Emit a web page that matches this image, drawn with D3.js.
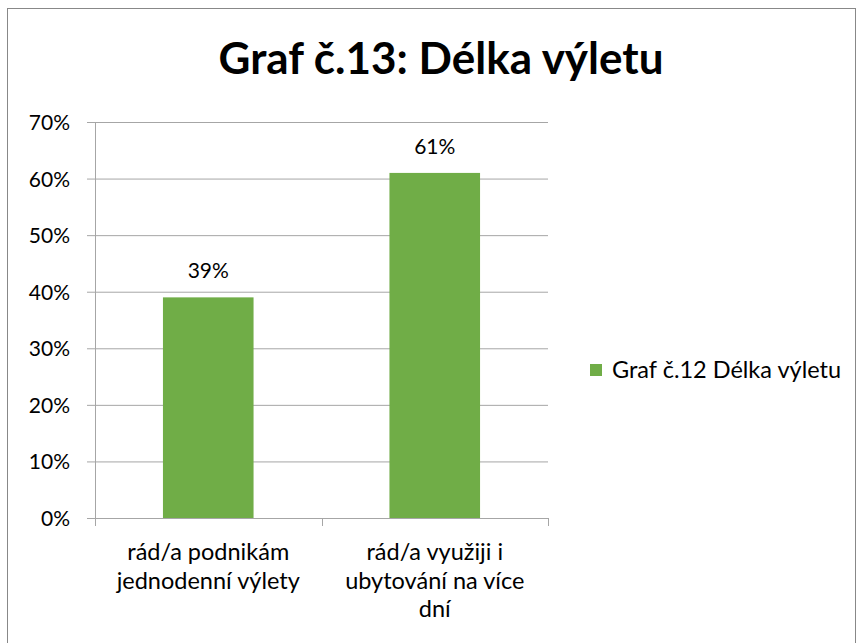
<!DOCTYPE html>
<html>
<head>
<meta charset="utf-8">
<script src="https://cdn.jsdelivr.net/npm/d3@7"></script>
<style>
  body { margin: 0; background: #fff; }
  text { font-family: Lato, "Open Sans", sans-serif; fill: #000; }
</style>
</head>
<body>
<script>
//data
var categories = [
    ['rád/a podnikám', 'jednodenní výlety'],
    ['rád/a využiji i', 'ubytování na více', 'dní']
];
var values = [0.39, 0.61];
var series_name = 'Graf č.12 Délka výletu';
var title_text = 'Graf č.13: Délka výletu';
var y_ticks = [0, 0.1, 0.2, 0.3, 0.4, 0.5, 0.6, 0.7];

//layout
var svg_width = 862;
var svg_height = 643;
var plot = {left: 95, right: 548, top: 122, bottom: 518};
var bar_color = '#70ad47';
var grid_color = '#a6a6a6';

var svg = d3.select('body').append('svg')
    .attr('width', svg_width)
    .attr('height', svg_height);

//outer frame
svg.append('rect')
    .attr('x', 7.5).attr('y', 8.5)
    .attr('width', 848).attr('height', 640)
    .attr('fill', 'none')
    .attr('stroke', '#888')
    .attr('stroke-width', 1);

//title
svg.append('text')
    .attr('x', 441)
    .attr('y', 74)
    .attr('text-anchor', 'middle')
    .style('font-size', '44px')
    .style('font-weight', 'bold')
    .text(title_text);

//scales
var scale_x = d3.scaleBand()
    .domain(d3.range(categories.length))
    .range([plot.left, plot.right])
    .paddingInner(0.6)
    .paddingOuter(0.3);
var scale_y = d3.scaleLinear()
    .domain([0, 0.7])
    .range([plot.bottom, plot.top]);

//y axis + grid
var axis_y = d3.axisLeft(scale_y)
    .tickValues(y_ticks)
    .tickFormat(d3.format('.0%'))
    .tickSize(8)
    .tickPadding(17);
var gy = svg.append('g')
    .attr('transform', 'translate(' + plot.left + ',0)')
    .call(axis_y);
gy.select('.domain').attr('stroke', grid_color).attr('d', 'M0.5,' + plot.top + 'V' + plot.bottom);
gy.selectAll('.tick line').attr('stroke', grid_color);
gy.selectAll('.tick text').style('font-size', '21px').attr('dy', '0.36em');
gy.selectAll('.tick')
    .filter(function(d) { return d > 0; })
    .append('line')
    .attr('x1', 0).attr('x2', plot.right - plot.left)
    .attr('stroke', grid_color);

//bars
svg.append('g').selectAll('rect')
    .data(values)
    .enter().append('rect')
    .attr('x', function(d, i) { return scale_x(i); })
    .attr('y', function(d) { return scale_y(d); })
    .attr('width', scale_x.bandwidth())
    .attr('height', function(d) { return plot.bottom - scale_y(d); })
    .attr('fill', bar_color);

//data labels
svg.append('g').selectAll('text')
    .data(values)
    .enter().append('text')
    .attr('x', function(d, i) { return scale_x(i) + scale_x.bandwidth() / 2; })
    .attr('y', function(d) { return scale_y(d) - 19; })
    .attr('text-anchor', 'middle')
    .style('font-size', '21px')
    .text(d3.format('.0%'));

//x axis
var gx = svg.append('g').attr('transform', 'translate(0,' + plot.bottom + ')');
gx.append('line')
    .attr('x1', plot.left).attr('x2', plot.right)
    .attr('y1', 0.5).attr('y2', 0.5)
    .attr('stroke', grid_color);
var bounds = [plot.left, plot.left + (plot.right - plot.left) / 2, plot.right];
gx.selectAll('line.tk')
    .data(bounds)
    .enter().append('line')
    .attr('class', 'tk')
    .attr('x1', function(d) { return Math.round(d) + 0.5; })
    .attr('x2', function(d) { return Math.round(d) + 0.5; })
    .attr('y1', 0).attr('y2', 8)
    .attr('stroke', grid_color);

//category labels
categories.forEach(function(lines, i) {
    var cx = scale_x(i) + scale_x.bandwidth() / 2;
    var t = gx.append('text')
        .attr('text-anchor', 'middle')
        .style('font-size', '23.5px');
    lines.forEach(function(l, j) {
        t.append('tspan')
            .attr('x', cx)
            .attr('y', 42 + j * 28.5)
            .text(l);
    });
});

//legend
var legend = svg.append('g').attr('transform', 'translate(590,364)');
legend.append('rect')
    .attr('width', 12).attr('height', 12)
    .attr('fill', bar_color);
legend.append('text')
    .attr('x', 22).attr('y', 14)
    .style('font-size', '23.5px')
    .text(series_name);
</script>
</body>
</html>
